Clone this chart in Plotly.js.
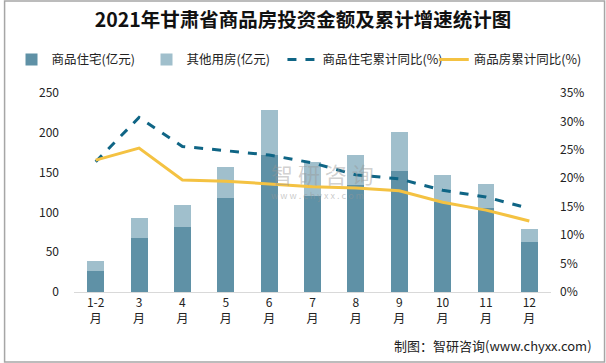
<!DOCTYPE html>
<html><head><meta charset="utf-8">
<script src="https://cdn.plot.ly/plotly-3.0.1.min.js"></script>
<style>html,body{margin:0;padding:0;background:#fff;overflow:hidden;width:606px;height:363px}#c{width:606px;height:363px;overflow:hidden}</style>
</head><body><div id="c"></div>
<script>
const months = ["1-2<br>月","3<br>月","4<br>月","5<br>月","6<br>月","7<br>月","8<br>月","9<br>月","10<br>月","11<br>月","12<br>月"];
const residential = [26, 68, 82, 118, 172, 121, 134, 152, 113, 106, 63];
const totalInvest = [39, 93, 109, 157, 229, 163, 172, 201, 147, 136, 79];
const otherHousing = totalInvest.map((t, i) => t - residential[i]);
const residentialYoY = [22.9, 30.7, 25.6, 24.9, 24.1, 22.7, 20.6, 19.9, 17.9, 16.7, 14.7];
const totalYoY = [23.2, 25.3, 19.7, 19.5, 19.0, 18.5, 18.3, 17.8, 15.8, 14.4, 12.5];
const leftTicks = [0, 50, 100, 150, 200, 250];
const rightTicks = [0, 5, 10, 15, 20, 25, 30, 35];

const fontFam = '"Microsoft YaHei","Noto Sans CJK SC","Noto Sans",sans-serif';
const traces = [
  {type:'bar', name:'商品住宅(亿元)', x:months, y:residential, marker:{color:'#5f91a6'}, hoverinfo:'skip', legend:'legend'},
  {type:'bar', name:'其他用房(亿元)', x:months, y:otherHousing, marker:{color:'#a0bfcc'}, hoverinfo:'skip', legend:'legend2'},
  {type:'scatter', mode:'lines', name:'商品住宅累计同比(%)', x:months, y:residentialYoY, yaxis:'y2',
   line:{color:'#0f6585', width:3, dash:'dash'}, hoverinfo:'skip', legend:'legend3'},
  {type:'scatter', mode:'lines', name:'商品房累计同比(%)', x:months, y:totalYoY, yaxis:'y2',
   line:{color:'#f4c242', width:3}, hoverinfo:'skip', legend:'legend4'}
];
function lg(x, anchor){
  return {orientation:'h', x:x, xanchor:anchor || 'left', y:1.166, yanchor:'middle', bgcolor:'rgba(0,0,0,0)',
          font:{size:12.5, color:'#222'}};
}
const layout = {
  width:606, height:363,
  margin:{l:70, r:55, t:93, b:71},
  paper_bgcolor:'#fff', plot_bgcolor:'#fff',
  barmode:'stack', bargap:0.61,
  font:{family:fontFam, size:12, color:'#333'},
  title:{text:'<b>2021年甘肃省商品房投资金额及累计增速统计图</b>', x:0.5, xanchor:'center', y:0.945, yanchor:'middle',
         font:{family:'"Noto Sans CJK SC",serif', size:19.5, color:'#111'}},
  showlegend:true,
  legend:lg(-0.131), legend2:lg(0.152), legend3:lg(0.437), legend4:lg(1.075, 'right'),
  xaxis:{type:'category', showline:true, linecolor:'#d9d9d9', linewidth:1, ticks:'', showgrid:false,
         tickfont:{size:12, color:'#222'}},
  yaxis:{range:[0,250], tickvals:leftTicks, showgrid:false, zeroline:false, showline:false, ticks:'',
         ticklabelstandoff:14, tickfont:{size:12, color:'#222'}},
  yaxis2:{overlaying:'y', side:'right', range:[0,35], tickvals:rightTicks, ticktext:rightTicks.map(v=>v+'%'),
          showgrid:false, zeroline:false, showline:false, ticks:'', ticklabelstandoff:8, tickfont:{size:12, color:'#222'}},
  annotations:[
    {xref:'paper', yref:'paper', x:1.091, y:-0.27, xanchor:'right', yanchor:'middle', showarrow:false,
     text:'制图：智研咨询(www.chyxx.com)', font:{size:13, color:'#222'}},
    {xref:'paper', yref:'paper', x:0.52, y:0.60, xanchor:'center', yanchor:'middle', showarrow:false,
     text:'智 研 咨 询', font:{size:22, color:'rgba(150,150,150,0.45)'}},
    {xref:'paper', yref:'paper', x:0.51, y:0.485, xanchor:'center', yanchor:'middle', showarrow:false,
     text:'w w w . c h y x x . c o m', font:{size:9, color:'rgba(150,150,150,0.5)'}}
  ],
  shapes:[
    {type:'rect', xref:'paper', yref:'paper', x0:-70/481, x1:1+54/481, y0:-70/199, y1:1+92/199,
     line:{color:'#a6a6a6', width:1.5}, fillcolor:'rgba(0,0,0,0)'}
  ]
};
Plotly.newPlot('c', traces, layout, {displayModeBar:false, staticPlot:true});
</script></body></html>
